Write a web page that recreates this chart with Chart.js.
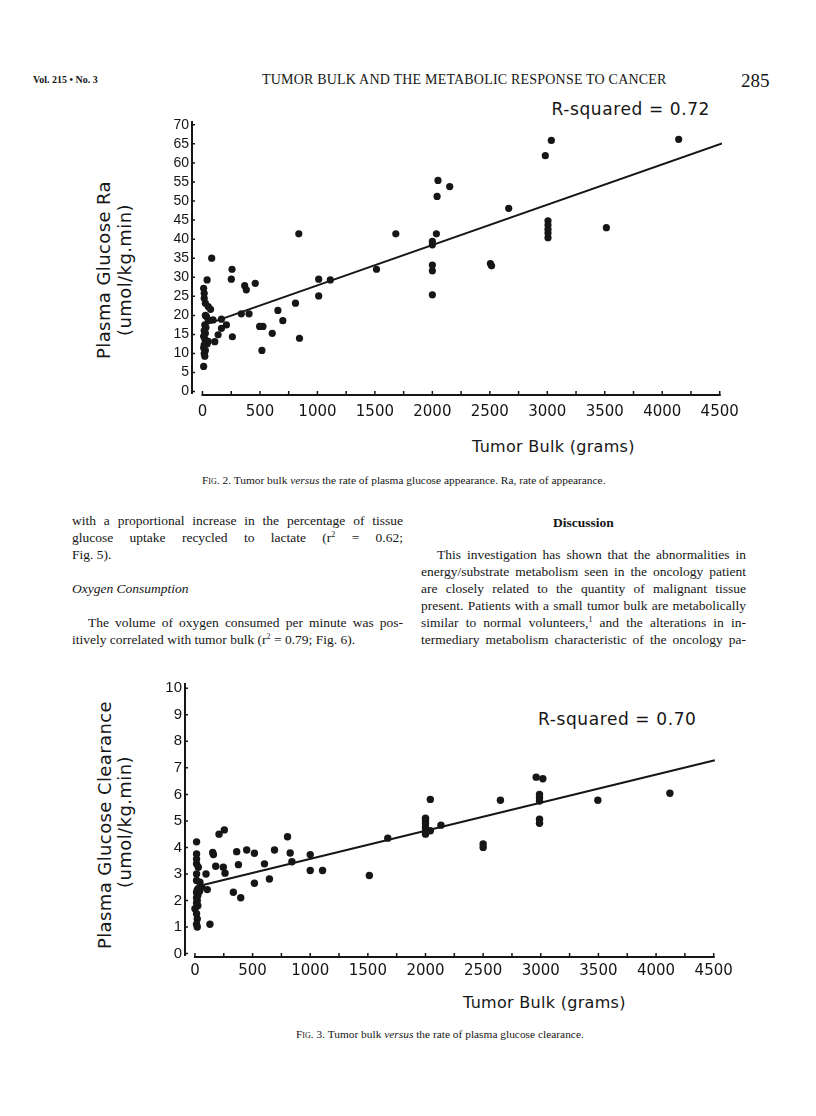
<!DOCTYPE html>
<html>
<head>
<meta charset="utf-8">
<script src="https://cdn.jsdelivr.net/npm/chart.js@4.4.1/dist/chart.umd.min.js"></script>
<style>
    html, body { margin: 0; padding: 0; background: #fff; }
    body { width: 816px; height: 1116px; position: relative; overflow: hidden; color: #161616; }
    .t { position: absolute; white-space: nowrap; }
    .serif { font-family: "Liberation Serif", "DejaVu Serif", serif; }
    .sans { font-family: "DejaVu Sans", sans-serif; }
    .ytitle { position: absolute; white-space: nowrap; font-family: "DejaVu Sans", sans-serif; font-size: 18px;
              letter-spacing: 0.4px; line-height: 20px; transform: translate(-50%, -50%) rotate(-90deg); }
    .line { position: absolute; font-family: "Liberation Serif", serif; font-size: 13.5px; line-height: 17px; white-space: nowrap; }
    .just { text-align: justify; text-align-last: justify; white-space: normal; }
    sup { font-size: 8px; line-height: 0; vertical-align: 5px; }
    .sc { font-variant: small-caps; }
    canvas { position: absolute; display: block; }
</style>
</head>
<body>

<!-- cabecera de la página -->
<div class="t serif" style="left:33px; top:73px; font-size:10px; line-height:14px; font-weight:bold;">Vol. 215 • No. 3</div>
<div class="t serif" style="left:262px; top:72px; font-size:14px; line-height:16px; letter-spacing:0.2px;">TUMOR BULK AND THE METABOLIC RESPONSE TO CANCER</div>
<div class="t serif" style="left:741px; top:70px; font-size:19px; line-height:22px;">285</div>

<!-- figura 2 -->
<div class="t sans" style="right:106px; top:99px; font-size:17px; line-height:20px; letter-spacing:0.6px;">R-squared = 0.72</div>
<div class="ytitle" style="left:104px; top:270px;">Plasma Glucose Ra</div>
<div class="ytitle" style="left:125px; top:270px;">(umol/kg.min)</div>
<canvas id="chart-ra" width="650" height="330" style="left:110px; top:100px;"></canvas>
<div class="t sans" style="left:472px; top:438px; font-size:16px; line-height:18px; letter-spacing:0.3px;">Tumor Bulk (grams)</div>
<div class="t serif" style="left:202px; top:473px; font-size:11.4px; line-height:14px;"><span class="sc">Fig.</span> 2. Tumor bulk <i>versus</i> the rate of plasma glucose appearance. Ra, rate of appearance.</div>

<!-- texto, columna izquierda -->
<div class="line just" style="left:72px; top:512px; width:331px;">with a proportional increase in the percentage of tissue</div>
<div class="line just" style="left:72px; top:529px; width:331px;">glucose uptake recycled to lactate (r<sup>2</sup> = 0.62;</div>
<div class="line" style="left:72px; top:546px;">Fig. 5).</div>
<div class="line" style="left:72px; top:580px; font-style:italic;">Oxygen Consumption</div>
<div class="line just" style="left:88px; top:614px; width:315px;">The volume of oxygen consumed per minute was pos-</div>
<div class="line" style="left:72px; top:631px;">itively correlated with tumor bulk (r<sup>2</sup> = 0.79; Fig. 6).</div>

<!-- texto, columna derecha -->
<div class="line" style="left:421px; top:514px; width:325px; text-align:center; font-weight:bold;">Discussion</div>
<div class="line just" style="left:437px; top:546px; width:309px;">This investigation has shown that the abnormalities in</div>
<div class="line just" style="left:421px; top:563px; width:325px;">energy/substrate metabolism seen in the oncology patient</div>
<div class="line just" style="left:421px; top:580px; width:325px;">are closely related to the quantity of malignant tissue</div>
<div class="line just" style="left:421px; top:597px; width:325px;">present. Patients with a small tumor bulk are metabolically</div>
<div class="line just" style="left:421px; top:614px; width:325px;">similar to normal volunteers,<sup>1</sup> and the alterations in in-</div>
<div class="line just" style="left:421px; top:631px; width:325px;">termediary metabolism characteristic of the oncology pa-</div>

<!-- figura 3 -->
<div class="t sans" style="left:538px; top:709px; font-size:17px; line-height:20px; letter-spacing:0.6px;">R-squared = 0.70</div>
<div class="ytitle" style="left:105px; top:825px;">Plasma Glucose Clearance</div>
<div class="ytitle" style="left:125px; top:822px;">(umol/kg.min)</div>
<canvas id="chart-clearance" width="650" height="330" style="left:110px; top:660px;"></canvas>
<div class="t sans" style="left:463px; top:994px; font-size:16px; line-height:18px; letter-spacing:0.3px;">Tumor Bulk (grams)</div>
<div class="t serif" style="left:296px; top:1027px; font-size:11.4px; line-height:14px;"><span class="sc">Fig.</span> 3. Tumor bulk <i>versus</i> the rate of plasma glucose clearance.</div>

<script>
// --- Datos: Fig. 2 (Ra) ---
const raBulk = [10, 15, 15, 25, 50, 70, 40, 80, 25, 35, 50, 20, 30, 15, 25, 10, 20, 30, 15, 10, 25, 15, 20, 10, 40, 50,
    92, 165, 208, 165, 136, 107,
    257, 251, 260, 338, 405, 367, 381, 459, 497, 526, 517, 607, 656, 699, 809, 844, 838, 1011, 1011, 1112, 1514, 1682,
    2000, 2000, 2000, 2000, 2000, 2035, 2041, 2049, 2151, 2505, 2515, 2664, 2983, 3035, 3006, 3006, 3006, 3006, 3006, 3514, 4143];
const raValue = [27.1, 25.8, 24.5, 23.2, 22.3, 21.6, 29.3, 35.0, 20.0, 19.7, 18.8, 17.5, 16.8, 16.0, 15.3, 14.5, 13.8, 13.0, 12.3, 11.5, 10.8, 10.0, 9.3, 6.6, 12.5, 13.2,
    18.8, 19.0, 17.5, 16.6, 14.9, 13.1,
    32.1, 29.5, 14.4, 20.4, 20.4, 27.8, 26.7, 28.4, 17.1, 17.1, 10.8, 15.3, 21.3, 18.6, 23.2, 14.0, 41.4, 29.5, 25.1, 29.3, 32.1, 41.4,
    39.4, 38.5, 33.2, 31.7, 25.4, 41.4, 51.2, 55.4, 53.8, 33.6, 33.0, 48.1, 61.9, 65.9, 44.8, 43.7, 42.6, 41.6, 40.4, 43.0, 66.2];
const raFitBulk = [20, 4520];
const raFitValue = [17.5, 65.1];

// --- Datos: Fig. 3 (clearance) ---
const clearBulk = [14, 14, 14, 14, 29, 14, 14, 43, 58, 20, 14, 25, 14, 20, 14, 25, 0, 14, 20, 14, 20, 30, 40,
    96, 107, 130, 154, 160, 180, 209, 255, 246, 261, 333, 362, 377, 397, 449, 516, 516, 603, 646, 690, 803, 826, 841, 1000, 1000, 1107, 1513, 1673,
    2000, 2000, 2000, 2000, 2000, 2000, 2042, 2042, 2134, 2500, 2500, 2650, 2960, 3018, 2989, 2989, 2989, 2989, 2989, 3495, 4120];
const clearValue = [4.21, 3.75, 3.56, 3.38, 3.25, 3.0, 2.75, 2.69, 2.5, 2.4, 2.3, 2.2, 2.1, 2.0, 1.9, 1.8, 1.69, 1.5, 1.3, 1.1, 1.0, 2.45, 2.35,
    3.0, 2.41, 1.1, 3.81, 3.73, 3.29, 4.5, 4.66, 3.25, 3.03, 2.31, 3.84, 3.35, 2.1, 3.9, 3.78, 2.65, 3.38, 2.81, 3.9, 4.4, 3.79, 3.46, 3.73, 3.13, 3.13, 2.94, 4.35,
    5.1, 5.0, 4.9, 4.75, 4.6, 4.5, 5.81, 4.63, 4.84, 4.13, 4.0, 5.78, 6.65, 6.59, 6.0, 5.88, 5.75, 5.06, 4.91, 5.78, 6.04];
const clearFitBulk = [70, 4510];
const clearFitValue = [2.58, 7.29];

// --- Ejes ---
const bulkTicks = [0, 500, 1000, 1500, 2000, 2500, 3000, 3500, 4000, 4500];
const bulkMinorTicks = [0, 250, 500, 750, 1000, 1250, 1500, 1750, 2000, 2250, 2500, 2750, 3000, 3250, 3500, 3750, 4000, 4250, 4500];
const raTicks = [0, 5, 10, 15, 20, 25, 30, 35, 40, 45, 50, 55, 60, 65, 70];
const clearTicks = [0, 1, 2, 3, 4, 5, 6, 7, 8, 9, 10];

const INK = '#161616';

// ejes "de papel": líneas separadas y marcas hacia dentro
const paperAxes = {
    id: 'paperAxes',
    afterDatasetsDraw(chart, args, opts) {
        const { ctx, chartArea } = chart;
        const x = chart.scales.x, y = chart.scales.y;
        const xl = chartArea.left + 1;
        const yb = chartArea.bottom - 1;
        ctx.save();
        ctx.strokeStyle = INK;
        ctx.lineWidth = 2;
        ctx.beginPath();
        ctx.moveTo(xl, chartArea.top);
        ctx.lineTo(xl, chartArea.bottom - 2);
        ctx.moveTo(x.getPixelForValue(0) - 1, yb);
        ctx.lineTo(x.getPixelForValue(4500) + 1, yb);
        ctx.stroke();
        ctx.lineWidth = 1.5;
        ctx.beginPath();
        bulkMinorTicks.forEach(v => {
            const px = x.getPixelForValue(v);
            ctx.moveTo(px, yb);
            ctx.lineTo(px, yb - 4);
        });
        opts.yTicks.forEach(v => {
            const py = y.getPixelForValue(v);
            ctx.moveTo(xl, py);
            ctx.lineTo(xl + 3, py);
        });
        ctx.stroke();
        ctx.restore();
    }
};

function buildChart(id, bulk, values, fitBulk, fitValues, o) {
    const points = bulk.map((b, i) => ({ x: b, y: values[i] }));
    const fit = fitBulk.map((b, i) => ({ x: b, y: fitValues[i] }));
    return new Chart(document.getElementById(id), {
        type: 'scatter',
        data: {
            datasets: [
                { data: points, pointRadius: o.dot, pointHoverRadius: o.dot, pointBackgroundColor: INK, pointBorderWidth: 0 },
                { type: 'line', data: fit, borderColor: INK, borderWidth: 2, pointRadius: 0, fill: false, tension: 0 }
            ]
        },
        options: {
            responsive: false,
            animation: false,
            events: [],
            layout: { padding: o.padding },
            plugins: { legend: { display: false }, tooltip: { enabled: false }, paperAxes: { yTicks: o.yTicks } },
            scales: {
                x: {
                    type: 'linear', min: o.xMin, max: o.xMax,
                    afterBuildTicks: s => { s.ticks = bulkTicks.map(v => ({ value: v })); },
                    afterFit: s => { s.height = o.xHeight; },
                    grid: { display: false, drawTicks: false },
                    border: { display: false },
                    ticks: { color: INK, padding: o.xPad, maxRotation: 0, autoSkip: false,
                             font: { family: 'DejaVu Sans', size: 15 }, callback: v => String(v) }
                },
                y: {
                    type: 'linear', min: o.yMin, max: o.yMax,
                    afterBuildTicks: s => { s.ticks = o.yTicks.map(v => ({ value: v })); },
                    afterFit: s => { s.width = o.yWidth; },
                    grid: { display: false, drawTicks: false },
                    border: { display: false },
                    ticks: { color: INK, padding: 2, autoSkip: false,
                             font: { family: 'Liberation Sans', size: o.yFont }, callback: v => String(v) }
                }
            }
        },
        plugins: [paperAxes]
    });
}

buildChart('chart-ra', raBulk, raValue, raFitBulk, raFitValue, {
    xMin: -100, xMax: 4520, yMin: -1.15, yMax: 71,
    yTicks: raTicks, yFont: 14, yWidth: 81, xHeight: 34, xPad: 7, dot: 3.6,
    padding: { left: 0, right: 38, top: 21, bottom: 0 }
});

buildChart('chart-clearance', clearBulk, clearValue, clearFitBulk, clearFitValue, {
    xMin: -95, xMax: 4520, yMin: -0.17, yMax: 10.2,
    yTicks: clearTicks, yFont: 15, yWidth: 74, xHeight: 32, xPad: 4, dot: 3.7,
    padding: { left: 0, right: 44, top: 23, bottom: 0 }
});
</script>
</body>
</html>
